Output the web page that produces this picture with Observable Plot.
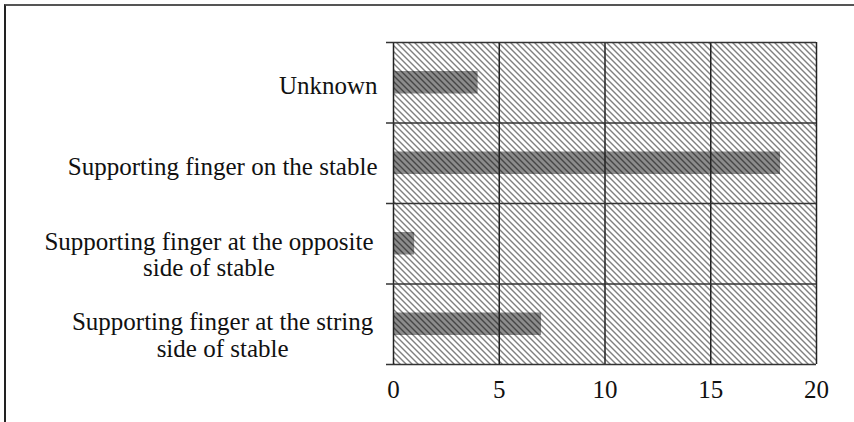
<!DOCTYPE html>
<html>
<head>
<meta charset="utf-8">
<script src="https://cdn.jsdelivr.net/npm/d3@7"></script>
<script src="https://cdn.jsdelivr.net/npm/@observablehq/plot@0.6"></script>
<style>
  html, body { margin: 0; padding: 0; background: #fff; }
  #wrap { position: relative; width: 854px; height: 422px; overflow: hidden; }
  #border { position: absolute; left: 4px; top: 4px; right: -10px; bottom: -10px;
            border-top: 2px solid #555; border-left: 2px solid #222; pointer-events: none; }
  #chart { position: absolute; left: 0; top: 0; }
</style>
</head>
<body>
<div id="wrap"><div id="chart"></div><div id="border"></div></div>
<script>
// Data (top to bottom)
const categories = [
  "Unknown",
  "Supporting finger on the stable",
  "Supporting finger at the opposite\nside of stable",
  "Supporting finger at the string\nside of stable"
];
const values = [4, 18.3, 1, 7];
const xTicks = [0, 5, 10, 15, 20];

const rows = categories.map((label, i) => ({label, value: values[i], i}));
const bounds = d3.range(categories.length + 1);

const defs = () => {
  const d = d3.create("svg:defs");
  const p = d.append("pattern")
    .attr("id", "hatch").attr("width", 6).attr("height", 6)
    .attr("patternUnits", "userSpaceOnUse");
  p.append("path")
    .attr("d", "M-1,-1L7,7M-1,5L1,7M5,-1L7,1")
    .attr("stroke", "#000").attr("stroke-width", 1.1)
    .attr("shape-rendering", "crispEdges");
  return d.node();
};

const chart = Plot.plot({
  width: 854,
  height: 422,
  marginLeft: 393,
  marginRight: 38,
  marginTop: 42,
  marginBottom: 58,
  style: {fontFamily: "'Liberation Serif', serif", fontSize: "25px", color: "#111", background: "transparent"},
  x: {domain: [0, 20], ticks: xTicks, tickSize: 0, tickPadding: 16, label: null},
  y: {domain: [0, categories.length], reverse: true, axis: null},
  marks: [
    defs,
    Plot.frame({fill: "white"}),
    Plot.rectX(rows, {x: "value", y1: "i", y2: d => d.i + 1, insetTop: 29, insetBottom: 29, fill: "#8c8c8c"}),
    Plot.frame({fill: "url(#hatch)"}),
    Plot.ruleX(xTicks, {stroke: "#222", strokeWidth: 1.5}),
    Plot.ruleY(bounds, {stroke: "#333", strokeWidth: 1.5, insetLeft: -7}),
    Plot.text(rows.filter(d => !d.label.includes("\n")), {
      text: "label", y: d => d.i + 0.5, frameAnchor: "left", dx: -16, dy: 3.5,
      textAnchor: "end", fill: "#111"
    }),
    Plot.text(rows.filter(d => d.label.includes("\n")), {
      text: "label", y: d => d.i + 0.5, frameAnchor: "left", dx: -20, dy: 10.8,
      textAnchor: "end", lineHeight: 1.05, fill: "#111"
    })
  ]
});

document.getElementById("chart").appendChild(chart);

// center multi-line labels under their widest line (right-aligned block)
chart.querySelectorAll("text").forEach(t => {
  if (t.querySelectorAll("tspan").length > 1) {
    const w = t.getBBox().width;
    t.setAttribute("text-anchor", "middle");
    t.setAttribute("transform", (t.getAttribute("transform") || "") + ` translate(${-w / 2},0)`);
  }
});
</script>
</body>
</html>
